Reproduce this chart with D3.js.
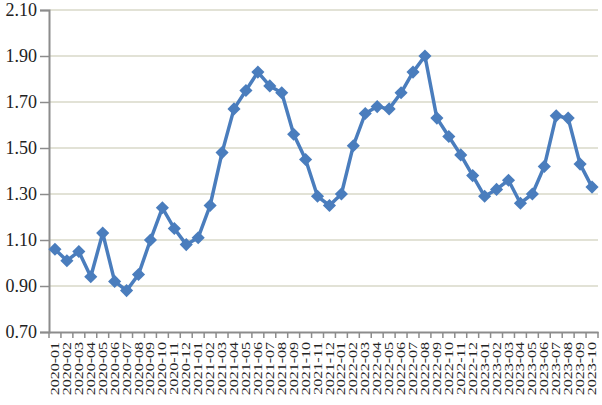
<!DOCTYPE html>
<html><head><meta charset="utf-8">
<script src="https://cdn.jsdelivr.net/npm/d3@7"></script>
<style>body{margin:0;background:#fff}svg{display:block}</style>
</head><body>
<svg id="c" width="602" height="405"></svg>
<script>
const categories = ["2020-01","2020-02","2020-03","2020-04","2020-05","2020-06","2020-07","2020-08","2020-09","2020-10","2020-11","2020-12",
"2021-01","2021-02","2021-03","2021-04","2021-05","2021-06","2021-07","2021-08","2021-09","2021-10","2021-11","2021-12",
"2022-01","2022-02","2022-03","2022-04","2022-05","2022-06","2022-07","2022-08","2022-09","2022-10","2022-11","2022-12",
"2023-01","2023-02","2023-03","2023-04","2023-05","2023-06","2023-07","2023-08","2023-09","2023-10"];
const values = [1.06,1.01,1.05,0.94,1.13,0.92,0.88,0.95,1.10,1.24,1.15,1.08,
1.11,1.25,1.48,1.67,1.75,1.83,1.77,1.74,1.56,1.45,1.29,1.25,
1.30,1.51,1.65,1.68,1.67,1.74,1.83,1.90,1.63,1.55,1.47,1.38,
1.29,1.32,1.36,1.26,1.30,1.42,1.64,1.63,1.43,1.33];
const yTicks = [0.70,0.90,1.10,1.30,1.50,1.70,1.90,2.10];

const svg = d3.select("#c");
const L = 49, R = 598, T = 10, B = 332;
const x = d3.scaleBand().domain(categories).range([L, R]);
const y = d3.scaleLinear().domain([0.70, 2.10]).range([B, T]);
const FONT = "'Liberation Serif', 'Times New Roman', serif";

// grid
svg.append("g").selectAll("line").data(yTicks.slice(1)).join("line")
  .attr("x1", L).attr("x2", R).attr("y1", d => y(d)).attr("y2", d => y(d))
  .attr("stroke", "#d8d8c8").attr("stroke-width", 1.5);

// y axis
const ya = svg.append("g").attr("transform", `translate(${L},0)`)
  .call(d3.axisLeft(y).tickValues(yTicks).tickFormat(d3.format(".2f")).tickSize(9).tickPadding(3));
ya.select(".domain").attr("stroke", "#8c8c8c").attr("stroke-width", 2);
ya.selectAll(".tick line").attr("stroke", "#8c8c8c").attr("stroke-width", 1.5);
ya.selectAll("text").style("font-family", FONT).style("font-size", "18px").attr("fill", "#222");

// x axis
const xa = svg.append("g").attr("transform", `translate(0,${B})`)
  .call(d3.axisBottom(x).tickSize(0).tickPadding(0));
xa.select(".domain").attr("stroke", "#8c8c8c").attr("stroke-width", 2);
xa.selectAll(".tick line").remove();
xa.selectAll("text").style("font-family", FONT).style("font-size", "16px").attr("fill", "#222")
  .attr("transform", "rotate(-90) scale(1,0.72)").attr("text-anchor", "end").attr("dy", "0.35em").attr("x", -10).attr("y", 0);
// boundary ticks
const bounds = categories.map(c => x(c)).concat([x(categories[categories.length-1]) + x.bandwidth()]);
svg.append("g").selectAll("line").data(bounds).join("line")
  .attr("x1", d => d).attr("x2", d => d).attr("y1", B).attr("y2", B + 6)
  .attr("stroke", "#8c8c8c").attr("stroke-width", 1.5);

const cx = (d, i) => x(categories[i]) + x.bandwidth() / 2;
svg.append("path").datum(values)
  .attr("d", d3.line().x((d, i) => cx(d, i)).y(d => y(d)))
  .attr("fill", "none").attr("stroke", "#4a7dbd").attr("stroke-width", 3.5).attr("stroke-linejoin", "round");
svg.append("g").selectAll("path").data(values).join("path")
  .attr("transform", (d, i) => `translate(${cx(d, i)},${y(d)})`)
  .attr("d", d3.symbol(d3.symbolDiamond2, 110))
  .attr("fill", "#4a7dbd");
</script>
</body></html>
